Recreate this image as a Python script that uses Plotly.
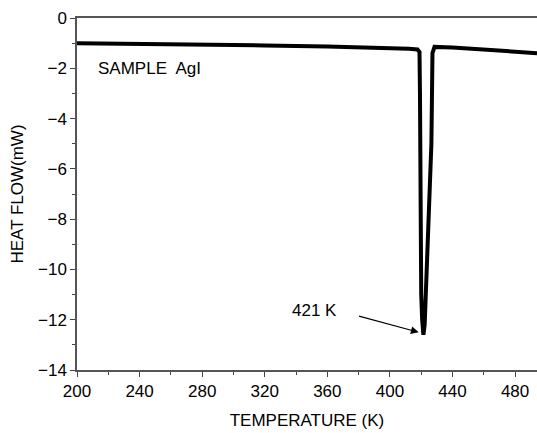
import plotly.graph_objects as go

temperature = [200, 240, 280, 320, 360, 400, 412, 417.6, 418.9, 419.2, 419.4, 419.6, 420.0, 420.6, 421.4,
               422.2, 423.3, 424.6, 426.5, 427.2, 428.5, 440, 460, 480, 494]
heat_flow = [-1.0, -1.02, -1.06, -1.09, -1.13, -1.18, -1.22, -1.25, -1.35, -3.0, -6.0, -9.0, -11.0, -12.0, -12.6,
             -12.2, -10.5, -8.0, -5.0, -1.4, -1.15, -1.17, -1.25, -1.33, -1.40]

sample_label = "SAMPLE  AgI"
peak_label = "421 K"
x_ticks = [200, 240, 280, 320, 360, 400, 440, 480]
y_ticks = [0, -2, -4, -6, -8, -10, -12, -14]

font = "Liberation Sans, Arial, sans-serif"

fig = go.Figure()
fig.add_trace(go.Scatter(x=temperature, y=heat_flow, mode="lines",
                         line=dict(color="black", width=4), showlegend=False))

# arrow pointing at the peak
fig.add_annotation(x=418.4, y=-12.5, ax=379.3, ay=-11.84, xref="x", yref="y", axref="x", ayref="y",
                   text="", showarrow=True, arrowhead=2, arrowsize=1.3, arrowwidth=1.2, arrowcolor="black")
fig.add_annotation(x=352, y=-11.65, xref="x", yref="y", text=peak_label, showarrow=False,
                   font=dict(family=font, size=17, color="black"))
fig.add_annotation(x=212.4, y=-1.99, xref="x", yref="y", text=sample_label, showarrow=False,
                   xanchor="left", font=dict(family=font, size=17, color="black"))

fig.update_layout(
    width=537, height=433,
    margin=dict(l=77, r=0, t=18, b=63),
    paper_bgcolor="white", plot_bgcolor="white",
    font=dict(family=font, size=17, color="black"),
    xaxis=dict(range=[200, 494], tickvals=x_ticks, ticks="outside", ticklen=5, tickcolor="#444",
               showline=True, linecolor="#555", linewidth=1.5, mirror=True, showgrid=False, zeroline=False,
               automargin=False,
               minor=dict(dtick=20, tick0=200, ticks="outside", ticklen=3, tickcolor="#444"),
               title=dict(text="TEMPERATURE (K)", standoff=14, font=dict(size=17))),
    yaxis=dict(range=[-14, 0], tickvals=y_ticks, ticks="outside", ticklen=5, tickcolor="#444",
               showline=True, linecolor="#555", linewidth=1.5, showgrid=False, zeroline=False,
               automargin=False,
               minor=dict(dtick=1, tick0=0, ticks="outside", ticklen=3, tickcolor="#444"),
               title=dict(text="HEAT FLOW(mW)", standoff=10, font=dict(size=17))),
)

fig.write_html("out.html", config={"displayModeBar": False},
               post_script="document.body.style.margin='0';document.body.style.overflow='hidden';")
